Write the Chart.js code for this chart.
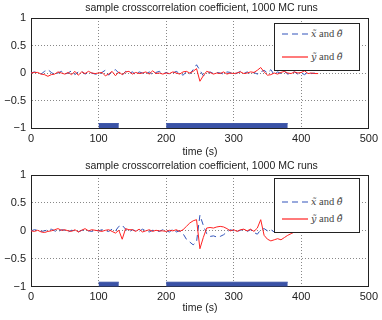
<!DOCTYPE html>
<html>
<head>
<meta charset="utf-8">
<script src="https://cdn.jsdelivr.net/npm/chart.js@4.4.1/dist/chart.umd.min.js"></script>
<style>
  body { margin: 0; background: #fff; width: 382px; height: 320px; overflow: hidden; }
  .box { position: absolute; left: 0; width: 382px; }
  .title { position: absolute; left: 31px; width: 341px; text-align: center; white-space: nowrap;
           font-family: "Liberation Sans", Arial, sans-serif; font-size: 10.5px; color: #222; line-height: 12px; }
  .legend { position: absolute; background: #fff; border: 1px solid #222; box-sizing: border-box;
            font-family: "Liberation Serif", "DejaVu Serif", serif; font-size: 10.5px; color: #444; }
  .legend .row { position: absolute; left: 7px; display: flex; align-items: center; white-space: nowrap; }
  .legend svg { margin-right: 3px; }
  .legend i { font-family: "DejaVu Serif", serif; font-size: 9.5px; }
</style>
</head>
<body>
<div class="box" style="top:0;height:158px"><canvas id="c1"></canvas></div>
<div class="box" style="top:157px;height:157px"><canvas id="c2"></canvas></div>
<div class="title" id="t1" style="top:1px"></div>
<div class="title" id="t2" style="top:159px"></div>
<div class="legend" id="leg1" style="left:274px;top:23px;width:86px;height:48px"></div>
<div class="legend" id="leg2" style="left:274px;top:178px;width:86px;height:55px"></div>
<script>
'use strict'

const titleText = 'sample crosscorrelation coefficient, 1000 MC runs';
const xLabel = 'time (s)';

const times = [0, 5, 10, 15, 20, 25, 30, 35, 40, 45, 50, 55, 60, 65, 70, 75, 80, 85, 90, 95,
  100, 105, 110, 115, 120, 125, 130, 135, 140, 145, 150, 155, 160, 165, 170, 175, 180, 185, 190, 195,
  200, 205, 210, 215, 220, 225, 230, 235, 240, 245, 250, 255, 260, 265, 270, 275, 280, 285, 290, 295,
  300, 305, 310, 315, 320, 325, 330, 335, 340, 345, 350, 355, 360, 365, 370, 375, 380, 385, 390, 395,
  400, 405, 410, 415, 420, 425];

// top plot: x~ / y~ against theta~
const topRed = [0, 0.01, 0.01, -0.02, -0.03, -0.06, -0.03, -0.02, 0.02, 0.0,
  -0.02, 0.01, -0.03, 0.03, -0.04, 0.02, -0.01, 0.03, 0.0, -0.01,
  0.0, 0.01, -0.05, -0.02, 0.03, -0.05, 0.02, -0.03, 0.02, 0.03,
  -0.02, 0.01, -0.01, 0.0, 0.02, -0.02, 0.04, -0.01, 0.0, -0.02,
  0.0, -0.01, 0.02, 0.0, -0.02, 0.02, 0.03, 0.0, 0.03, 0.08,
  -0.15, -0.05, 0.03, 0.01, -0.02, 0.0, -0.01, 0.02, -0.02, 0.0,
  -0.01, 0.0, 0.02, -0.01, 0.0, 0.02, 0.01, 0.05, 0.1, 0.02,
  -0.04, -0.03, 0.0, -0.02, 0.01, 0.03, 0.0, -0.01, 0.02, 0.0,
  0.01, 0.04, -0.01, 0.0, -0.01, -0.01];
const topBlue = [0, 0.02, 0.0, -0.02, 0.03, 0.06, 0.01, -0.03, 0.0, 0.03,
  -0.02, 0.0, 0.04, -0.03, 0.02, 0.03, -0.02, 0.01, 0.0, -0.02,
  -0.03, 0.01, 0.05, -0.04, 0.03, 0.06, 0.0, -0.04, 0.03, -0.01,
  0.02, -0.03, 0.02, 0.0, -0.02, 0.02, -0.03, 0.01, 0.03, -0.02,
  0.01, -0.02, 0.0, 0.03, -0.01, -0.04, 0.02, -0.02, 0.06, 0.15,
  0.05, -0.05, -0.02, 0.02, -0.01, 0.01, 0.0, -0.02, 0.02, 0.01,
  -0.03, 0.0, 0.03, -0.01, 0.02, -0.02, 0.01, -0.02, 0.02, 0.05,
  0.0, 0.06, -0.03, 0.02, -0.01, 0.03, -0.02, 0.0, 0.02, -0.02,
  0.0, -0.03, 0.02, -0.01, 0.0];

// bottom plot: x~ / y~ against theta~ dot
const botRed = [0, -0.01, 0.01, -0.02, -0.03, -0.01, 0.0, 0.02, 0.04, 0.01,
  0.02, 0.0, -0.01, 0.02, -0.02, 0.01, 0.04, 0.0, 0.02, 0.01,
  0.0, -0.01, 0.01, 0.02, -0.01, -0.04, 0.01, -0.15, 0.04, 0.02,
  0.02, -0.01, 0.03, -0.02, 0.0, 0.02, -0.01, 0.01, 0.0, 0.0,
  -0.01, 0.01, 0.0, 0.02, -0.01, 0.02, 0.08, 0.14, 0.18, 0.2,
  -0.32, -0.12, 0.05, 0.06, 0.05, 0.07, 0.08, 0.07, 0.04, 0.0,
  0.02, -0.01, 0.02, 0.03, 0.0, 0.03, -0.01, 0.05, 0.2, -0.08,
  -0.15, -0.18, -0.16, -0.14, -0.16, -0.12, -0.08, -0.05, -0.02, 0.0,
  0.01, 0.0, 0.02, 0.01, 0.0, 0.01];
const botBlue = [0, 0.02, 0.01, -0.01, 0.0, 0.02, 0.03, 0.0, -0.02, 0.02,
  0.01, -0.02, 0.01, 0.0, -0.02, 0.01, 0.02, 0.0, -0.01, 0.01,
  0.0, 0.02, 0.0, -0.01, 0.03, 0.0, 0.08, 0.1, 0.03, -0.02,
  0.02, 0.0, -0.01, 0.03, 0.0, -0.02, 0.01, 0.0, -0.01, 0.02,
  0.0, -0.02, 0.03, -0.02, 0.0, -0.05, -0.15, -0.2, -0.25, -0.2,
  0.28, 0.1, -0.05, -0.1, -0.09, -0.11, -0.1, -0.07, -0.02, 0.02,
  0.0, -0.01, 0.01, 0.03, -0.01, 0.02, -0.03, -0.06, 0.02, 0.04,
  0.0, 0.02, -0.02, 0.01, 0.0, -0.01, 0.01, -0.02, 0.01, -0.03,
  0.0, -0.02, 0.01, -0.03];

// blue blocks along the bottom axis
const barIntervals = [[100, 130], [200, 380]];
const barTop = -0.92;

const redColor = '#ff2222';
const blueColor = '#3355bb';
const barColor = '#3a52a6';

function pts(ys) {
  const out = [];
  for (let i = 0; i < ys.length; i++) out.push({ x: times[i], y: ys[i] });
  return out;
}

function makeChart(id, red, blue, opt) {
  const ctx = document.getElementById(id).getContext('2d');
  const datasets = [
    { data: pts(red), borderColor: redColor, borderWidth: 1, pointRadius: 0, order: 1, tension: 0 },
    { data: pts(blue), borderColor: blueColor, borderWidth: 1, borderDash: [6, 4], pointRadius: 0, order: 2, tension: 0 },
  ];
  for (const iv of barIntervals) {
    datasets.push({
      data: [{ x: iv[0], y: barTop }, { x: iv[1], y: barTop }],
      borderColor: barColor, borderWidth: 1, borderDash: [], backgroundColor: barColor,
      fill: 'start', pointRadius: 0, order: 3,
    });
  }
  const gridStyle = { color: '#888', drawTicks: false, lineWidth: 1 };
  const frame = { display: true, color: '#222', width: 1, dash: [1, 2] };
  const sansFont = '"Liberation Sans", Arial, sans-serif';
  const tickFont = { family: sansFont, size: 11 };
  return new Chart(ctx, {
    type: 'line',
    data: { datasets: datasets },
    options: {
      responsive: true,
      maintainAspectRatio: false,
      animation: false,
      layout: { padding: { left: 0, right: 10, top: opt.top, bottom: 0 } },
      plugins: {
        legend: { display: false },
        tooltip: { enabled: false },
        title: { display: false },
      },
      scales: {
        x: {
          type: 'linear', min: 0, max: 500,
          ticks: { stepSize: 100, color: '#222', font: tickFont, padding: 4, maxRotation: 0 },
          grid: gridStyle,
          border: frame,
          title: { display: true, text: xLabel, color: '#222', font: { family: sansFont, size: 10.5 }, padding: 0 },
          afterFit: (s) => { s.height = opt.xHeight; },
        },
        y: {
          min: -1, max: 1,
          ticks: {
            stepSize: 0.5, color: '#222', font: tickFont, padding: 5,
            callback: (v) => String(v).replace('-', '\u2212'),
          },
          grid: gridStyle,
          border: frame,
          afterFit: (s) => { s.width = 31; },
        },
        x2: {
          type: 'linear', position: 'top', min: 0, max: 500,
          ticks: { display: false }, grid: { display: false }, border: frame,
          afterFit: (s) => { s.height = 0; },
        },
        y2: {
          position: 'right', min: -1, max: 1,
          ticks: { display: false }, grid: { display: false }, border: frame,
          afterFit: (s) => { s.width = 0; },
        },
      },
    },
  });
}

function fillLegend(id, labels, gap) {
  const el = document.getElementById(id);
  const styles = [{ c: blueColor, dash: '6 4' }, { c: redColor, dash: '' }];
  labels.forEach((lab, i) => {
    const row = document.createElement('div');
    row.className = 'row';
    row.style.top = (gap[i]) + 'px';
    row.innerHTML = '<svg width="26" height="6"><line x1="0" y1="3" x2="26" y2="3" stroke="' + styles[i].c +
      '" stroke-width="1.2" stroke-dasharray="' + styles[i].dash + '"/></svg><span>' + lab + '</span>';
    el.appendChild(row);
  });
}

makeChart('c1', topRed, topBlue, { top: 18, xHeight: 30 });
makeChart('c2', botRed, botBlue, { top: 18, xHeight: 27.3 });
document.getElementById('t1').textContent = titleText;
document.getElementById('t2').textContent = titleText;

fillLegend('leg1', ['<i>x\u0303</i> and <i>\u03b8\u0303</i>', '<i>y\u0303</i> and <i>\u03b8\u0303</i>'], [4, 27]);
fillLegend('leg2', ['<i>x\u0303</i> and <i>\u03b8\u0303\u0307</i>', '<i>y\u0303</i> and <i>\u03b8\u0303\u0307</i>'], [17, 34]);
</script>
</body>
</html>
